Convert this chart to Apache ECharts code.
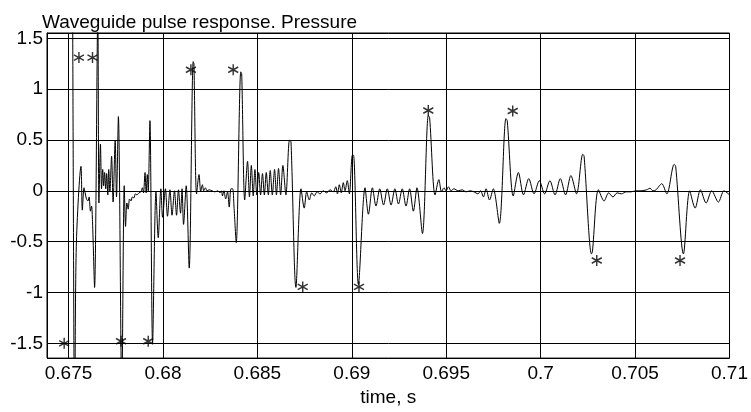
<!DOCTYPE html>
<html>
<head>
<meta charset="utf-8">
<script src="https://cdn.jsdelivr.net/npm/echarts@6/dist/echarts.min.js"></script>
<style>
html,body{margin:0;padding:0;background:#fff;}
#chart{width:751px;height:412px;}
</style>
</head>
<body>
<div id="chart"></div>
<script>
// time (s) of each traced vertex of the pressure trace
const time = [
0.67521,0.67530,0.67532,0.67541,0.67566,0.67573,0.67582,0.67588,0.67595,0.67603,
0.67609,0.67616,0.67622,0.67627,0.67638,0.67655,0.67661,0.67669,0.67675,0.67681,
0.67686,0.67691,0.67697,0.67702,0.67708,0.67713,0.67719,0.67728,0.67736,0.67747,
0.67754,0.67764,0.67782,0.67795,0.67802,0.67809,0.67816,0.67823,0.67831,0.67838,
0.67846,0.67854,0.67862,0.67873,0.67883,0.67891,0.67897,0.67905,0.67911,0.67917,
0.67922,0.67931,0.67945,0.67963,0.67975,0.67989,0.67998,0.68013,0.68024,0.68037,
0.68048,0.68061,0.68072,0.68082,0.68093,0.68101,0.68109,0.68123,0.68139,0.68160,
0.68164,0.68178,0.68191,0.68200,0.68209,0.68216,0.68225,0.68233,0.68244,0.68260,
0.68275,0.68291,0.68302,0.68310,0.68315,0.68323,0.68332,0.68342,0.68351,0.68360,
0.68369,0.68376,0.68388,0.68412,0.68417,0.68433,0.68448,0.68458,0.68468,0.68478,
0.68487,0.68497,0.68507,0.68517,0.68527,0.68537,0.68547,0.68558,0.68568,0.68579,
0.68591,0.68601,0.68612,0.68623,0.68635,0.68651,0.68670,0.68678,0.68704,0.68731,
0.68748,0.68761,0.68775,0.68788,0.68801,0.68816,0.68832,0.68849,0.68867,0.68885,
0.68902,0.68915,0.68924,0.68934,0.68944,0.68955,0.68964,0.68976,0.68987,0.69003,
0.69009,0.69035,0.69070,0.69088,0.69109,0.69128,0.69148,0.69168,0.69188,0.69208,
0.69228,0.69247,0.69267,0.69287,0.69306,0.69326,0.69345,0.69374,0.69405,0.69412,
0.69441,0.69461,0.69475,0.69488,0.69499,0.69512,0.69525,0.69541,0.69563,0.69584,
0.69605,0.69626,0.69647,0.69668,0.69682,0.69697,0.69711,0.69729,0.69749,0.69781,
0.69816,0.69823,0.69855,0.69882,0.69909,0.69937,0.69965,0.69993,0.70021,0.70049,
0.70076,0.70104,0.70132,0.70160,0.70190,0.70223,0.70230,0.70269,0.70274,0.70306,
0.70336,0.70360,0.70383,0.70405,0.70428,0.70452,0.70479,0.70505,0.70532,0.70561,
0.70579,0.70595,0.70611,0.70641,0.70668,0.70707,0.70715,0.70756,0.70789,0.70818,
0.70846,0.70876,0.70906,0.70941,0.70971,0.71000
];
// pressure value at each vertex
const pressure = [
2.20,-2.20,-2.50,-0.55,0.24,-0.19,0.03,-0.02,-0.08,-0.10,
-0.06,-0.20,-0.15,-0.30,-0.95,1.75,-0.12,0.46,0.02,0.21,
0.05,0.18,0.02,0.17,-0.04,0.21,-0.01,0.34,-0.11,0.50,
-0.06,0.73,-2.00,0.05,-0.35,-0.12,-0.18,-0.08,-0.10,-0.06,
-0.07,-0.03,-0.04,-0.02,-0.01,0.03,-0.02,0.18,-0.02,0.16,
0.00,0.69,-1.50,-0.01,-0.46,0.02,-0.26,0.02,-0.25,0.01,
-0.24,0.00,-0.24,0.01,-0.22,0.02,-0.33,0.05,-0.76,1.27,
1.25,-0.03,0.16,-0.01,0.06,0.00,0.03,0.00,0.01,0.00,
-0.01,0.00,-0.02,0.00,-0.05,0.00,-0.08,-0.01,-0.16,0.02,
0.02,-0.15,-0.51,1.17,1.15,-0.09,0.29,-0.06,0.25,-0.05,
0.21,-0.04,0.18,-0.04,0.17,-0.04,0.18,-0.04,0.20,-0.04,
0.21,-0.04,0.22,-0.04,0.25,-0.04,0.50,0.48,-0.95,0.02,
-0.17,-0.01,-0.09,-0.02,-0.05,-0.01,-0.03,0.00,-0.02,0.01,
-0.01,0.04,-0.03,0.06,-0.02,0.08,0.00,0.10,-0.03,0.35,
0.35,-0.92,0.03,-0.23,0.03,-0.15,0.02,-0.14,0.02,-0.14,
0.02,-0.13,0.02,-0.15,0.02,-0.20,0.03,-0.42,0.74,0.72,
-0.04,0.11,-0.01,0.03,0.00,0.04,0.00,0.02,0.00,0.01,
-0.01,0.00,-0.01,-0.03,0.00,-0.06,0.02,-0.09,0.02,-0.32,
0.71,0.69,-0.05,0.18,-0.04,0.12,-0.03,0.10,-0.03,0.10,
-0.04,0.12,-0.04,0.15,-0.03,0.36,0.34,-0.62,-0.60,0.01,
-0.10,-0.02,-0.06,-0.02,-0.03,-0.01,-0.01,0.00,0.00,0.01,
0.025,0.00,0.01,0.07,-0.03,0.26,0.24,-0.62,0.00,-0.17,
0.01,-0.12,0.00,-0.11,0.00,-0.04
];
// asterisk markers
const markTime = [0.67477,0.67555,0.67627,0.67778,0.67922,0.68148,0.68372,0.68740,0.69038,0.69405,0.69852,0.70297,0.70738];
const markValue = [-1.50,1.31,1.31,-1.48,-1.48,1.19,1.19,-0.945,-0.945,0.79,0.785,-0.685,-0.685];

const titleText = 'Waveguide pulse response. Pressure';
const xName = 'time, s';

const FONT = 'Liberation Sans, Arial, sans-serif';
const chart = echarts.init(document.getElementById('chart'), null, {renderer: 'canvas'});
chart.setOption({
  animation: false,
  backgroundColor: '#fff',
  title: {
    text: titleText, left: 42, top: 13, padding: 0,
    textStyle: {fontFamily: FONT, fontSize: 19, fontWeight: 'normal', color: '#000'}
  },
  grid: {left: 47, right: 20, top: 33, bottom: 45, show: true, borderColor: '#000', borderWidth: 1, backgroundColor: 'transparent'},
  xAxis: {
    type: 'value', min: 0.67386, max: 0.71, splitNumber: 8,
    minInterval: 0.005, maxInterval: 0.005,
    name: xName, nameLocation: 'middle', nameGap: 25,
    nameTextStyle: {fontFamily: FONT, fontSize: 19, color: '#000'},
    axisLine: {show: true, lineStyle: {color: '#000', width: 1}},
    axisTick: {show: false},
    axisLabel: {showMinLabel: false, showMaxLabel: true, margin: 6, fontFamily: FONT, fontSize: 19, color: '#000'},
    splitLine: {show: true, lineStyle: {color: '#000', width: 1}}
  },
  yAxis: {
    type: 'value', min: -1.645, max: 1.552, splitNumber: 6,
    minInterval: 0.5, maxInterval: 0.5,
    axisLine: {show: true, lineStyle: {color: '#000', width: 1}},
    axisTick: {show: false},
    axisLabel: {showMinLabel: false, showMaxLabel: false, margin: 4, fontFamily: FONT, fontSize: 19, color: '#000'},
    splitLine: {show: true, lineStyle: {color: '#000', width: 1}}
  },
  series: [
    {
      type: 'line', data: time.map((t, i) => [t, pressure[i]]),
      showSymbol: false, symbol: 'none', clip: true, smooth: 0.3,
      lineStyle: {color: '#000', width: 1}
    },
    {
      type: 'scatter', data: markTime.map((t, i) => [t, markValue[i]]),
      symbol: 'path://M5,0L5,10M0.67,2.5L9.33,7.5M0.67,7.5L9.33,2.5',
      symbolSize: [10, 11], clip: false,
      itemStyle: {color: '#000', borderColor: '#000', borderWidth: 1.5}
    }
  ]
});
</script>
</body>
</html>
